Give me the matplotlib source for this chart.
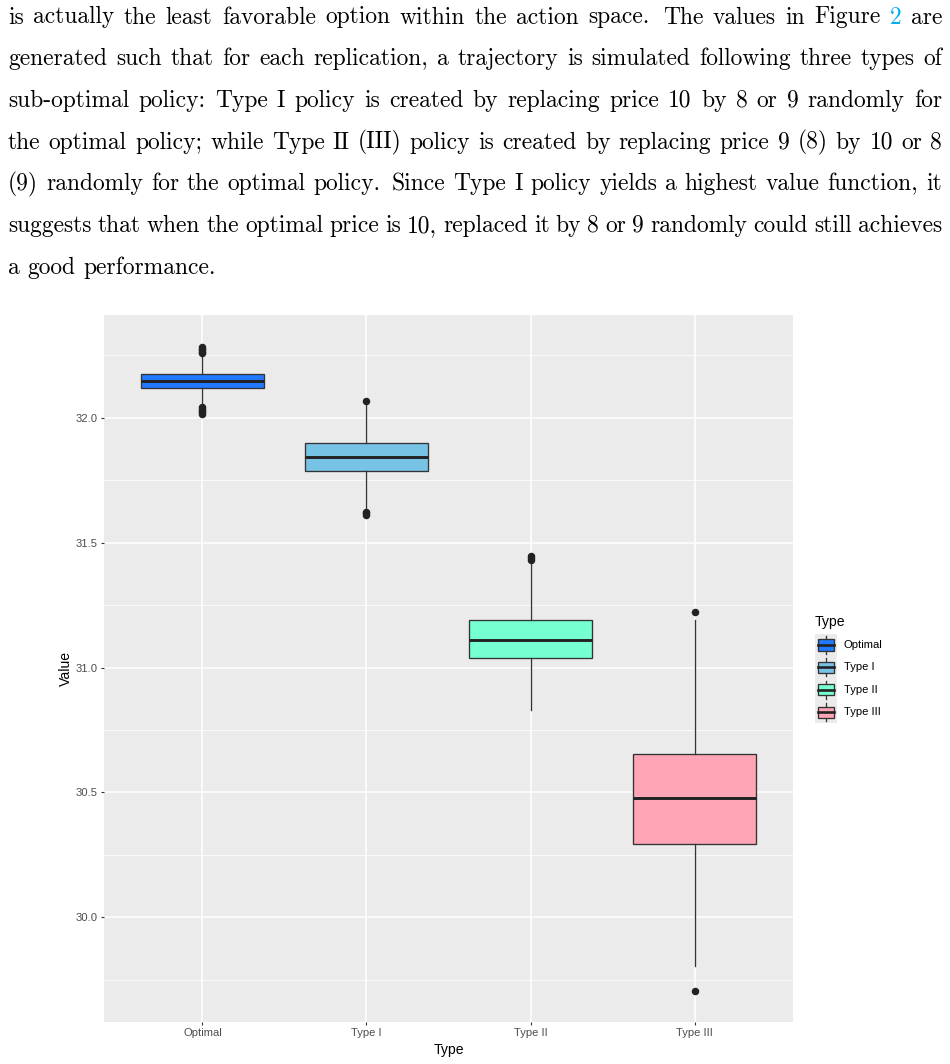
import matplotlib
matplotlib.use('Agg')
import matplotlib.pyplot as plt
from matplotlib.patches import Rectangle
from matplotlib.lines import Line2D

W, H = 950, 1064
DPI = 100

# ---------------- data ----------------
categories = ['Optimal', 'Type I', 'Type II', 'Type III']
colors = ['#2079FF', '#77C3E6', '#76FFD1', '#FFA5B5']
q1 = [32.119, 31.789, 31.037, 30.293]
median = [32.147, 31.844, 31.112, 30.479]
q3 = [32.175, 31.899, 31.192, 30.655]
whisker_low = [32.052, 31.632, 30.829, 29.804]
whisker_high = [32.245, 32.058, 31.424, 31.192]
outliers_optimal = [32.282, 32.276, 32.270, 32.264, 32.260, 32.044, 32.036, 32.028, 32.022, 32.016]
outliers_type1 = [32.067, 31.624, 31.618, 31.612]
outliers_type2 = [31.448, 31.440, 31.432]
outliers_type3 = [31.223, 29.704]
outliers = [outliers_optimal, outliers_type1, outliers_type2, outliers_type3]
y_ticks = [30.0, 30.5, 31.0, 31.5, 32.0]
y_tick_labels = ['30.0', '30.5', '31.0', '31.5', '32.0']
y_minor = [29.75, 30.25, 30.75, 31.25, 31.75, 32.25]

paragraph_lines = [
    "is actually the least favorable option within the action space. The values in Figure 2 are",
    "generated such that for each replication, a trajectory is simulated following three types of",
    "sub-optimal policy: Type I policy is created by replacing price 10 by 8 or 9 randomly for",
    "the optimal policy; while Type II (III) policy is created by replacing price 9 (8) by 10 or 8",
    "(9) randomly for the optimal policy. Since Type I policy yields a highest value function, it",
    "suggests that when the optimal price is 10, replaced it by 8 or 9 randomly could still achieves",
    "a good performance.",
]

# ---------------- figure ----------------
fig = plt.figure(figsize=(W / DPI, H / DPI), dpi=DPI)
fig.patch.set_facecolor('white')

def fx(px):
    return px / W

def fy(py):
    return 1 - py / H

# ---------- paragraph (justified) ----------
renderer = fig.canvas.get_renderer()
TXT_LEFT, TXT_RIGHT = 8.0, 942.0
BASE0, LINE_STEP = 23.5, 41.7
TXT_SIZE = 16.9
for li, line in enumerate(paragraph_lines):
    words = line.split(' ')
    objs = []
    for w in words:
        col = '#00AEEF' if (w == '2' and 'Figure' in line) else 'black'
        t = fig.text(0, fy(BASE0 + li * LINE_STEP), w, fontsize=TXT_SIZE,
                     family='cmr10', color=col, va='baseline', ha='left')
        objs.append(t)
    widths = [o.get_window_extent(renderer).width for o in objs]
    weights = []
    for w in words[:-1]:
        weights.append(1.4 if w.endswith('.') else 1.0)
    last = (li == len(paragraph_lines) - 1)
    space_nat = TXT_SIZE * DPI / 72 * 0.333
    if last:
        unit = space_nat
    else:
        unit = (TXT_RIGHT - TXT_LEFT - sum(widths)) / sum(weights)
    x = TXT_LEFT
    for i, o in enumerate(objs):
        o.set_x(fx(x))
        x += widths[i]
        if i < len(weights):
            x += unit * weights[i]

# ---------- main panel ----------
P_L, P_R, P_T, P_B = 104, 793, 315, 1022
ax = fig.add_axes([fx(P_L), fy(P_B), (P_R - P_L) / W, (P_B - P_T) / H])
ax.set_facecolor('#EBEBEB')
for s in ax.spines.values():
    s.set_visible(False)

positions = list(range(1, len(categories) + 1))
stats = []
for i in range(len(categories)):
    stats.append(dict(med=median[i], q1=q1[i], q3=q3[i],
                      whislo=whisker_low[i], whishi=whisker_high[i],
                      fliers=outliers[i], label=categories[i]))

bp = ax.bxp(stats, positions=positions, widths=0.75, patch_artist=True,
            showcaps=False, zorder=3,
            boxprops=dict(edgecolor='#333333', linewidth=0.95),
            medianprops=dict(color='#222222', linewidth=2.1),
            whiskerprops=dict(color='#333333', linewidth=0.95),
            flierprops=dict(marker='o', markersize=4.4, markerfacecolor='#222222',
                            markeredgecolor='#222222', linestyle='none'))
for patch, c in zip(bp['boxes'], colors):
    patch.set_facecolor(c)

ax.set_xlim(0.4, 4.6)
ax.set_ylim(29.58, 32.412)
ax.set_xticks(positions)
ax.set_xticklabels(categories)
ax.set_yticks(y_ticks)
ax.set_yticklabels(y_tick_labels)
ax.set_yticks(y_minor, minor=True)
ax.grid(which='major', axis='both', color='white', linewidth=1.1, zorder=0)
ax.grid(which='minor', axis='y', color='white', linewidth=0.55, zorder=0)
ax.set_axisbelow(True)
ax.tick_params(which='major', length=2.5, width=0.8, color='#333333',
               labelcolor='#4D4D4D', labelsize=8.1, pad=2.0)
ax.tick_params(which='minor', length=0)
for lab in ax.get_xticklabels() + ax.get_yticklabels():
    lab.set_family('Liberation Sans')

fig.text(fx(66), fy(668), 'Value', rotation=90, ha='center', va='center',
         fontsize=10.1, family='Liberation Sans', color='black')
fig.text(fx(449), fy(1050), 'Type', ha='center', va='center',
         fontsize=10.1, family='Liberation Sans', color='black')

# ---------- legend ----------
KEY_H = 22.4
LG_L, LG_T = 815, 633.7
lg = fig.add_axes([fx(LG_L), fy(LG_T + KEY_H * 4), 22 / W, KEY_H * 4 / H])
lg.set_xlim(0, 1)
lg.set_ylim(len(categories), 0)
lg.set_facecolor('#EBEBEB')
lg.axis('off')
lg.add_patch(Rectangle((0, 0), 1, len(categories), facecolor='#EBEBEB',
                       edgecolor='none', zorder=0))
for i, (cat, c) in enumerate(zip(categories, colors)):
    lg.add_line(Line2D([0.5, 0.5], [i + 0.1, i + 0.9], color='#333333', lw=0.95, zorder=1))
    lg.add_patch(Rectangle((0.125, i + 0.25), 0.75, 0.5, facecolor=c,
                           edgecolor='#333333', lw=0.95, zorder=2))
    lg.add_line(Line2D([0.125, 0.875], [i + 0.5, i + 0.5], color='#222222', lw=1.9, zorder=3))
    fig.text(fx(844), fy(LG_T + KEY_H * (i + 0.5)), cat, ha='left', va='center',
             fontsize=8.1, family='Liberation Sans', color='black')
fig.text(fx(815), fy(622), 'Type', ha='left', va='center',
         fontsize=10.1, family='Liberation Sans', color='black')

fig.savefig('out.png', dpi=DPI, facecolor='white')
